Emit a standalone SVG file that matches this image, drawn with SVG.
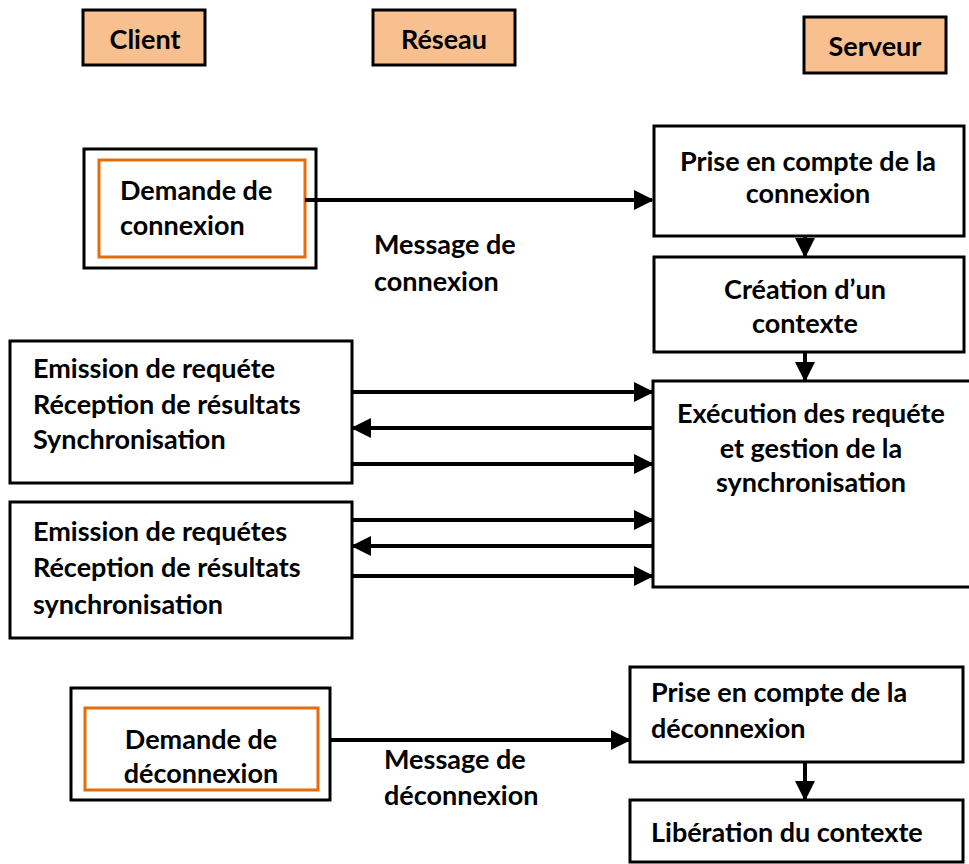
<svg xmlns="http://www.w3.org/2000/svg" width="969" height="864" viewBox="0 0 969 864">
<style>
text{font-family:Lato,"Liberation Sans",Arial,sans-serif;font-weight:bold;font-size:27px;fill:#000}
.box{fill:#fff;stroke:#000;stroke-width:3}
.hdr{fill:#F8C08F;stroke:#000;stroke-width:3}
.inner{fill:#fff;stroke:#E46C0A;stroke-width:3}
.c{text-anchor:middle}
.ln{stroke:#000;stroke-width:4;fill:none}
</style>
<defs>
<marker id="ah" markerWidth="5" markerHeight="5" refX="4.5" refY="2.5" orient="auto" markerUnits="strokeWidth">
<path d="M0,0 L5,2.5 L0,5 Z" fill="#000"/>
</marker>
</defs>
<rect width="969" height="864" fill="#fff"/>
<g id="client"><rect class="hdr" x="83" y="10" width="122" height="55"/><text class="c" x="145" y="49">Client</text></g>
<g id="reseau"><rect class="hdr" x="373" y="10" width="142" height="55"/><text class="c" x="444" y="49">Réseau</text></g>
<g id="serveur"><rect class="hdr" x="804" y="17" width="142" height="56"/><text class="c" x="875" y="56">Serveur</text></g>

<g id="demande-connexion"><rect class="box" x="84" y="149" width="232" height="119"/><rect class="inner" x="99" y="160" width="206" height="97"/><text x="120" y="200">Demande de</text><text x="120" y="235">connexion</text></g>
<g id="msg-connexion"><text x="374" y="254">Message de</text><text x="374" y="291">connexion</text></g>

<g id="prise-connexion"><rect class="box" x="654" y="126" width="310" height="110"/><text class="c" x="808" y="171">Prise en compte de la</text><text class="c" x="808" y="203">connexion</text></g>
<g id="creation"><rect class="box" x="654" y="257" width="310" height="95"/><text class="c" x="805" y="299">Création d’un</text><text class="c" x="805" y="333">contexte</text></g>
<g id="execution"><rect class="box" x="653" y="381" width="318" height="206"/><text class="c" x="811" y="423">Exécution des requéte</text><text class="c" x="811" y="458">et gestion de la</text><text class="c" x="811" y="492">synchronisation</text></g>

<g id="client1"><rect class="box" x="10" y="341" width="342" height="142"/><text x="33" y="378">Emission de requéte</text><text x="33" y="414">Réception de résultats</text><text x="33" y="449">Synchronisation</text></g>
<g id="client2"><rect class="box" x="10" y="502" width="342" height="136"/><text x="33" y="541">Emission de requétes</text><text x="33" y="577">Réception de résultats</text><text x="33" y="614">synchronisation</text></g>

<g id="demande-deconnexion"><rect class="box" x="71" y="688" width="259" height="112"/><rect class="inner" x="85" y="708" width="233" height="82"/><text class="c" x="201" y="749">Demande de</text><text class="c" x="201" y="783">déconnexion</text></g>
<g id="msg-deconnexion"><text x="384" y="769">Message de</text><text x="384" y="805">déconnexion</text></g>

<g id="prise-deconnexion"><rect class="box" x="630" y="667" width="333" height="95"/><text x="651" y="702">Prise en compte de la</text><text x="651" y="738">déconnexion</text></g>
<g id="liberation"><rect class="box" x="630" y="800" width="333" height="62"/><text x="651" y="842">Libération du contexte</text></g>

<g id="connectors">
<line class="ln" x1="305" y1="200" x2="652" y2="200" marker-end="url(#ah)"/>
<line class="ln" x1="805" y1="236" x2="805" y2="256" marker-end="url(#ah)"/>
<line class="ln" x1="805" y1="352" x2="805" y2="380" marker-end="url(#ah)"/>
<line class="ln" x1="352" y1="392" x2="652" y2="392" marker-end="url(#ah)"/>
<line class="ln" x1="653" y1="428" x2="353" y2="428" marker-end="url(#ah)"/>
<line class="ln" x1="352" y1="464" x2="652" y2="464" marker-end="url(#ah)"/>
<line class="ln" x1="352" y1="520" x2="652" y2="520" marker-end="url(#ah)"/>
<line class="ln" x1="653" y1="546" x2="353" y2="546" marker-end="url(#ah)"/>
<line class="ln" x1="352" y1="576" x2="652" y2="576" marker-end="url(#ah)"/>
<line class="ln" x1="330" y1="740" x2="629" y2="740" marker-end="url(#ah)"/>
<line class="ln" x1="805" y1="762" x2="805" y2="799" marker-end="url(#ah)"/>
</g>
</svg>
